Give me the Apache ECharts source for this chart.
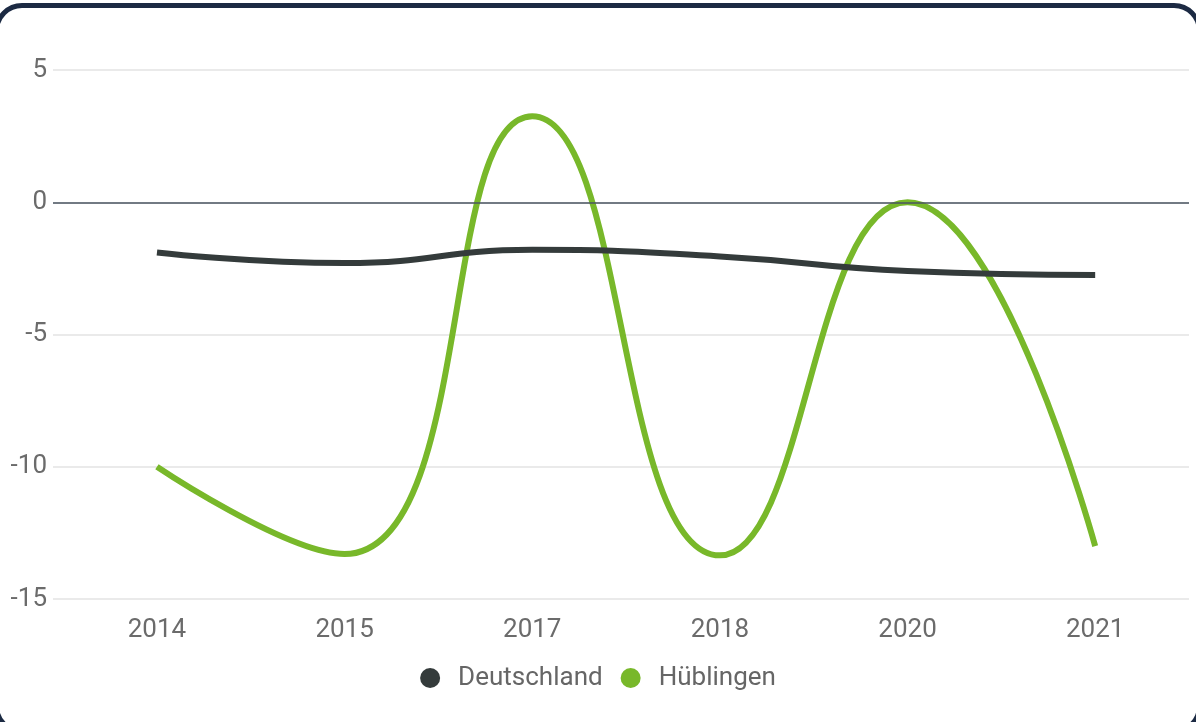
<!DOCTYPE html>
<html>
<head>
<meta charset="utf-8">
<script src="https://cdn.jsdelivr.net/npm/echarts@6/dist/echarts.min.js"></script>
<style>
  html, body { margin: 0; padding: 0; background: #ffffff; overflow: hidden; }
  #frame {
    position: absolute; left: -6px; top: 3px; width: 1208px; height: 731px;
    border: 5px solid #1c2a43; border-radius: 28px; box-sizing: border-box;
  }
  #chart { position: absolute; left: 0; top: 0; width: 1196px; height: 722px; }
</style>
</head>
<body>
<div id="frame"></div>
<div id="chart"></div>
<script>
const categories = ['2014', '2015', '2017', '2018', '2020', '2021'];
const deutschland = [-1.9, -2.3, -1.8, -2.05, -2.6, -2.75];
const huebingen = [-10, -13.3, 3.25, -13.35, 0, -13];
const yTicks = [-15, -10, -5, 0, 5];

const toPoints = arr => arr.map((v, i) => [i, v]);
const idx = categories.map((c, i) => i);

const chart = echarts.init(document.getElementById('chart'), null, { renderer: 'canvas' });
chart.setOption({
  backgroundColor: 'transparent',
  animation: false,
  textStyle: { fontFamily: 'Roboto, "Liberation Sans", sans-serif' },
  grid: { left: 53, right: 7, top: 70, bottom: 123 },
  legend: {
    left: 'center', top: 660, icon: 'circle', itemWidth: 20, itemHeight: 20, itemGap: 18,
    textStyle: { fontSize: 26, color: '#666666', padding: [0, 0, 0, 13] },
    data: ['Deutschland', 'Hüblingen']
  },
  xAxis: {
    type: 'value', min: -0.554, max: 5.5,
    axisLine: { show: false }, axisTick: { show: false }, splitLine: { show: false },
    axisLabel: {
      customValues: idx, fontSize: 26, color: '#6b6b6b', margin: 18,
      formatter: v => categories[Math.round(v)] || ''
    }
  },
  yAxis: {
    type: 'value', min: yTicks[0], max: yTicks[yTicks.length - 1], interval: 5,
    axisLine: { show: false }, axisTick: { show: false },
    axisLabel: { fontSize: 26, color: '#6b6b6b', margin: 6 },
    splitLine: { lineStyle: { color: '#e3e3e3', width: 1.5 } }
  },
  series: [
    {
      name: 'Deutschland', type: 'line', smooth: 0.5, showSymbol: false,
      data: toPoints(deutschland),
      itemStyle: { color: '#343b3b' },
      lineStyle: { color: '#343b3b', width: 6 },
      z: 3
    },
    {
      name: 'Hüblingen', type: 'line', smooth: 0.5, showSymbol: false,
      data: toPoints(huebingen),
      itemStyle: { color: '#78b82a' },
      lineStyle: { color: '#78b82a', width: 6 },
      z: 2,
      markLine: {
        silent: true, symbol: 'none', label: { show: false },
        lineStyle: { color: '#4a5560', width: 1.5, type: 'solid' },
        data: [{ yAxis: 0 }]
      }
    }
  ]
});
</script>
</body>
</html>
